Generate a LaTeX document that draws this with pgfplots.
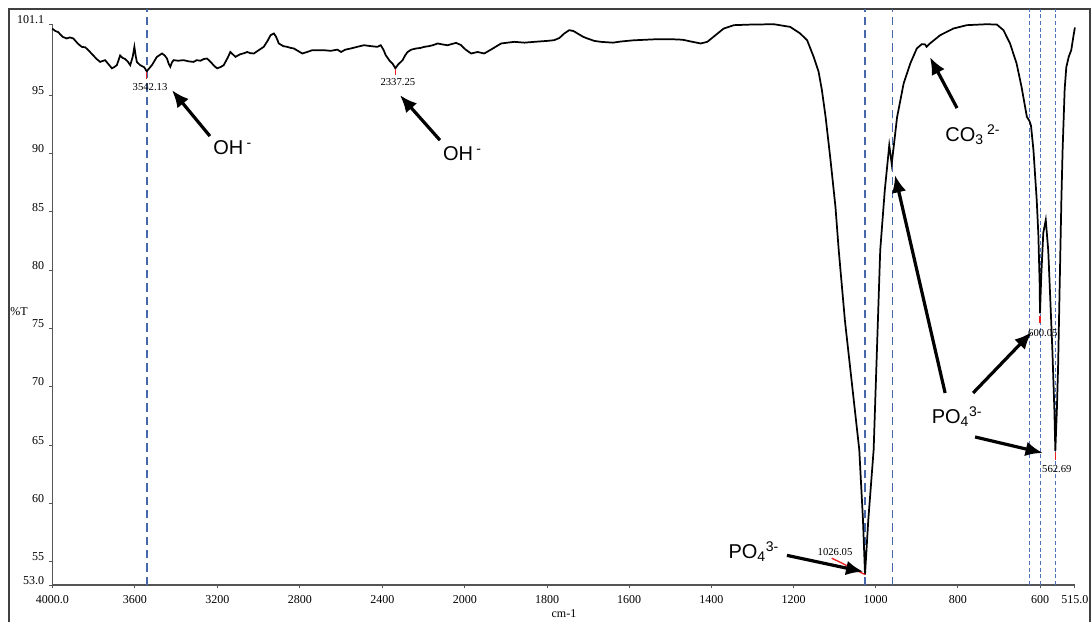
\documentclass[border=0pt]{standalone}
\usepackage{fontspec}
\setmainfont{Liberation Serif}
\newfontfamily\arial{Liberation Sans}
\usepackage{pgfplots}
\pgfplotsset{compat=1.18}
\usetikzlibrary{arrows.meta}
\definecolor{dashblue}{RGB}{72,104,172}
\definecolor{dashblue2}{RGB}{80,115,190}
\definecolor{axgray}{RGB}{85,85,85}
\definecolor{pkred}{RGB}{235,30,30}
\tikzset{
  arr/.style={-{Latex[length=13pt,width=11pt]}, line width=2.4pt, black},
  lbl/.style={font=\arial\fontsize{15}{16}\selectfont, anchor=base west, inner sep=0pt},
  pk/.style={font=\fontsize{8}{9}\selectfont, inner sep=0pt},
  dl/.style={dashblue, line width=1.3pt, dash pattern=on 6.2pt off 3.8pt},
  ds/.style={dashblue2, line width=1pt, dash pattern=on 3pt off 2pt},
}
\begin{document}
\begin{tikzpicture}
\useasboundingbox (0,0) rectangle (819pt,465.75pt);
\draw[line width=1pt, black!75] (6.75pt,-3pt) rectangle (817.5pt,459pt);
\pgfplotsset{
  common/.style={
    scale only axis, height=420.75pt, ymin=53, ymax=101.1, x dir=reverse, clip=false,
    axis x line*=bottom, tick align=outside, major tick length=2.5pt,
    axis line style={axgray, line width=0.9pt}, tick style={axgray, line width=0.7pt},
    ticklabel style={font=\fontsize{9}{10}\selectfont},
    /pgf/number format/assume math mode=true,
    xticklabel style={yshift=-1.5pt},
  },
}
\begin{axis}[common, name=A, at={(39.2pt,27pt)}, anchor=south west, width=309.5pt,
  xmin=2000, xmax=4000, axis y line*=left,
  xtick={4000,3600,3200,2800,2400}, xticklabels={4000.0,3600,3200,2800,2400},
  ytick={53,55,60,65,70,75,80,85,90,95,101.1},
  yticklabels={53.0,55,60,65,70,75,80,85,90,95,101.1},
  yticklabel style={yshift=3.5pt}]
\draw[dl] (axis cs:3542,53) -- (axis cs:3542,102.37);
\addplot[black, line width=1.3pt] coordinates {
(4000,100.7) (3985,100.5) (3971,100.4) (3950,100.0) (3930,99.86) (3915,99.95) (3898,99.86)
(3875,99.4) (3857,99.14) (3840,99.1) (3825,98.85) (3801,98.4) (3785,98.1) (3768,97.85)
(3744,98.0) (3725,97.6) (3711,97.3) (3700,97.4) (3687,97.57) (3671,98.4) (3660,98.2)
(3647,98.1) (3635,97.9) (3622,97.57) (3610,98.3) (3602,99.14) (3595,98.3) (3590,97.85)
(3574,97.57) (3555,97.4) (3542,97.05) (3530,97.3) (3517,97.57) (3493,98.28) (3468,98.57)
(3455,98.4) (3444,98.14) (3436,97.7) (3428,97.43) (3420,97.8) (3412,98.0) (3390,97.95)
(3364,98.0) (3340,97.9) (3315,97.85) (3300,98.0) (3282,97.95) (3265,98.1) (3250,98.14)
(3230,97.8) (3215,97.5) (3201,97.3) (3185,97.4) (3169,97.57) (3150,98.2) (3137,98.7)
(3125,98.5) (3112,98.28) (3090,98.5) (3070,98.6) (3055,98.7) (3040,98.6) (3023,98.57)
(3000,98.85) (2975,99.14) (2955,99.7) (2942,100.14) (2926,100.29) (2915,100.0) (2902,99.43)
(2880,99.2) (2861,99.14) (2845,99.05) (2829,99.0) (2810,98.8) (2788,98.57) (2765,98.7)
(2740,98.85) (2710,98.85) (2683,98.85) (2650,98.8) (2618,98.9) (2600,98.7) (2580,98.9)
(2553,99.0) (2520,99.15) (2489,99.28) (2455,99.2) (2424,99.14) (2408,99.28) (2395,98.9)
(2384,98.43) (2365,97.95) (2351,97.71) (2337,97.3) (2325,97.6) (2302,98.0) (2290,98.4)
(2278,98.7) (2260,98.9) (2237,99.0) (2215,99.05) (2197,99.14) (2175,99.2) (2156,99.28)
(2132,99.43) (2110,99.35) (2084,99.28) (2060,99.4) (2043,99.48) (2020,99.3) (2003,99.0)
(2000,98.95)};
\draw[pkred, line width=1pt] (axis cs:3542,97.0) -- (axis cs:3542,96.4);
\draw[pkred, line width=1pt] (axis cs:2337,97.2) -- (axis cs:2337,96.7);
\node[pk] at (axis cs:3526,95.68) {3542.13};
\node[pk] at (axis cs:2325,96.11) {2337.25};
\draw[arr] (axis cs:3236,91.49) -- (axis cs:3420,95.43);
\draw[arr] (axis cs:2121,91.14) -- (axis cs:2315,95.0);
\node[lbl] at (axis cs:3221,89.94) {OH\,\textsuperscript{-}};
\node[lbl] at (axis cs:2107,89.43) {OH\,\textsuperscript{-}};
\node[font=\fontsize{9}{10}\selectfont] at (axis cs:4161,76.4) {\%T};
\end{axis}
\begin{axis}[common, at={(A.south east)}, anchor=south west, width=457.5pt,
  xmin=515, xmax=2000, axis y line=none,
  xtick={2000,1800,1600,1400,1200,1000,800,600,515},
  xticklabels={2000,1800,1600,1400,1200,1000,800,600,515.0}]
\draw[dl] (axis cs:1026,53) -- (axis cs:1026,102.37);
\draw[dl] (axis cs:959,53) -- (axis cs:959,102.37);
\draw[ds] (axis cs:626,53) -- (axis cs:626,102.37);
\draw[ds] (axis cs:599,53) -- (axis cs:599,102.37);
\draw[ds] (axis cs:562,53) -- (axis cs:562,102.37);
\addplot[black, line width=1.3pt] coordinates {
(2000,98.95) (1985,98.57) (1969,98.7) (1953,98.57) (1932,99.0) (1912,99.43) (1880,99.57)
(1855,99.5) (1831,99.57) (1800,99.65) (1783,99.71) (1770,99.9) (1758,100.29) (1746,100.57)
(1736,100.5) (1726,100.29) (1712,100.0) (1702,99.86) (1685,99.65) (1669,99.57) (1640,99.5)
(1620,99.6) (1590,99.7) (1560,99.75) (1530,99.8) (1500,99.8) (1470,99.75) (1450,99.6)
(1426,99.43) (1410,99.57) (1390,100.14) (1370,100.71) (1345,101.0) (1305,101.05)
(1248,101.08) (1208,100.85) (1184,100.29) (1167,99.71) (1151,98.28) (1139,97.0)
(1131,95.43) (1122,93.14) (1110,89.43) (1098,85.43) (1090,81.7) (1075,75.7) (1058,70.3)
(1040,64.6) (1031,58.6) (1026,53.9) (1018,58.6) (1005,64.6) (989,81.7) (978,86.8)
(967,90.7) (961,89.1) (948,93.1) (932,96.0) (916,97.7) (900,99.0) (888,99.37) (880,99.35)
(876,99.14) (868,99.43) (843,100.14) (811,100.71) (778,101.0) (730,101.08) (705,101.05)
(689,100.57) (673,99.43) (657,97.71) (645,95.71) (632,93.14) (626,92.8) (622,92.4)
(616,90.29) (608,86.0) (604,83.0) (601,79.0) (600,76.3) (597,79.5) (592,83.2) (586,84.3)
(580,81.7) (575,77.5) (570,73.2) (565,68.0) (562.7,64.5) (559,68.0) (556,71.7) (552,78.9)
(548,86.0) (545,90.3) (540,95.5) (536,97.4) (530,98.3) (524,98.85) (518,100.2) (515,100.8)};
\draw[pkred, line width=1pt] (axis cs:1026,53.9) -- (axis cs:1107,55.3);
\draw[pkred, line width=1pt] (axis cs:600,76.1) -- (axis cs:600,75.5);
\draw[pkred, line width=1pt] (axis cs:562.7,64.4) -- (axis cs:562.7,63.7);
\node[pk] at (axis cs:1099,55.84) {1026.05};
\node[pk] at (axis cs:593,74.6) {600.05};
\node[pk] at (axis cs:559,62.95) {562.69};
\draw[arr] (axis cs:802,93.89) -- (axis cs:868,98.26);
\draw[arr] (axis cs:831,69.46) -- (axis cs:953,88.14);
\draw[arr] (axis cs:763,69.46) -- (axis cs:620,74.69);
\draw[arr] (axis cs:758,65.69) -- (axis cs:593,64.32);
\draw[arr] (axis cs:1216,55.54) -- (axis cs:1030,54.14);
\node[lbl] at (axis cs:831,91.0) {CO\textsubscript{3}\,\textsuperscript{2-}};
\node[lbl] at (axis cs:864,66.81) {PO\textsubscript{4}\textsuperscript{3-}};
\node[lbl] at (axis cs:1359,55.3) {PO\textsubscript{4}\textsuperscript{3-}};
\node[font=\fontsize{9}{10}\selectfont] at (axis cs:1759,50.53) {cm-1};
\end{axis}
\end{tikzpicture}
\end{document}
